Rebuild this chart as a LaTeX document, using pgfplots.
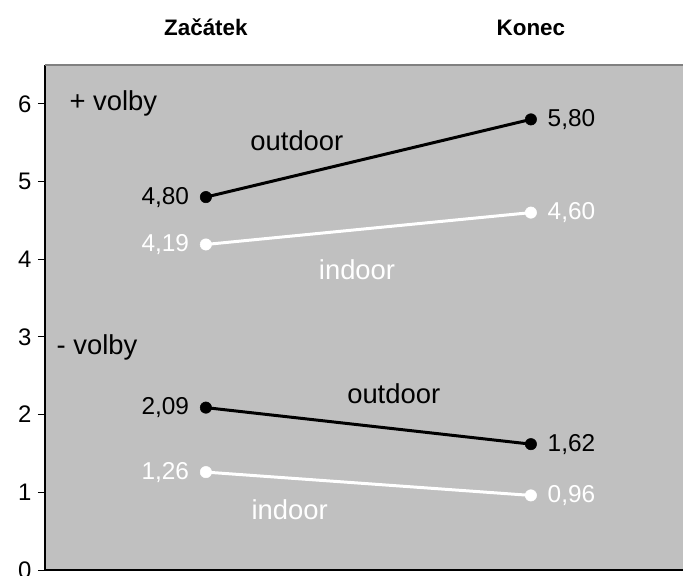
\documentclass[border=0pt]{standalone}
\usepackage{fontspec}
\setmainfont{Liberation Sans}
\usepackage{pgfplots}
\pgfplotsset{compat=1.18}
\definecolor{bg}{HTML}{C0C0C0}
\definecolor{topline}{HTML}{808080}
\tikzset{lab/.style={font=\fontsize{24.5}{28}\selectfont},
         wlab/.style={font=\fontsize{27.5}{31}\selectfont}}
\begin{document}
\begin{tikzpicture}
\path[use as bounding box] (0,0) rectangle (683bp,576bp);
\begin{axis}[
 at={(45bp,6bp)}, anchor=south west,
 scale only axis, width=638bp, height=505bp,
 xmin=-0.495, xmax=1.468, ymin=0, ymax=6.5,
 xtick=\empty, ytick={0,1,2,3,4,5,6},
 ytick pos=left, tick align=outside, major tick length=7bp,
 tick style={black, line width=1bp},
 axis line style={draw=none},
 axis background/.style={fill=bg},
 clip=false,
 /pgf/number format/assume math mode=true,
 yticklabel style={font=\fontsize{24}{28}\selectfont, xshift=-3bp},
]
\draw[black, line width=1.3bp] (rel axis cs:0,1) -- (rel axis cs:0,0) -- (rel axis cs:1,0);
\draw[topline, line width=1.3bp] (rel axis cs:0,1) -- (rel axis cs:1,1);

% + volby outdoor
\addplot[black, line width=3bp, mark=*, mark size=5.7bp, mark options={solid, line width=0.5bp}]
 coordinates {(0,4.80) (1,5.80)}
 node[pos=0, anchor=east, xshift=-12bp, lab] {4,80}
 node[pos=1, anchor=west, xshift=12bp, lab] {5,80};
% + volby indoor
\addplot[white, line width=3bp, mark=*, mark size=5.7bp, mark options={solid, line width=0.5bp}]
 coordinates {(0,4.19) (1,4.60)}
 node[pos=0, anchor=east, xshift=-12bp, lab] {4,19}
 node[pos=1, anchor=west, xshift=12bp, lab] {4,60};
% - volby outdoor
\addplot[black, line width=3bp, mark=*, mark size=5.7bp, mark options={solid, line width=0.5bp}]
 coordinates {(0,2.09) (1,1.62)}
 node[pos=0, anchor=east, xshift=-12bp, lab] {2,09}
 node[pos=1, anchor=west, xshift=12bp, lab] {1,62};
% - volby indoor
\addplot[white, line width=3bp, mark=*, mark size=5.7bp, mark options={solid, line width=0.5bp}]
 coordinates {(0,1.26) (1,0.96)}
 node[pos=0, anchor=east, xshift=-12bp, lab] {1,26}
 node[pos=1, anchor=west, xshift=12bp, lab] {0,96};

\node[wlab, anchor=west, black] at (axis cs:-0.43,6.0) {+ volby};
\node[wlab, anchor=west, black] at (axis cs:-0.47,2.87) {- volby};
\node[wlab, black] at (axis cs:0.28,5.53) {outdoor};
\node[wlab, white] at (axis cs:0.465,3.86) {indoor};
\node[wlab, black] at (axis cs:0.578,2.275) {outdoor};
\node[wlab, white] at (axis cs:0.258,0.77) {indoor};

\node[font=\fontsize{22.5}{26}\selectfont\bfseries] at (axis cs:0,6.98) {Začátek};
\node[font=\fontsize{22.5}{26}\selectfont\bfseries] at (axis cs:1,6.98) {Konec};
\end{axis}
\end{tikzpicture}
\end{document}
